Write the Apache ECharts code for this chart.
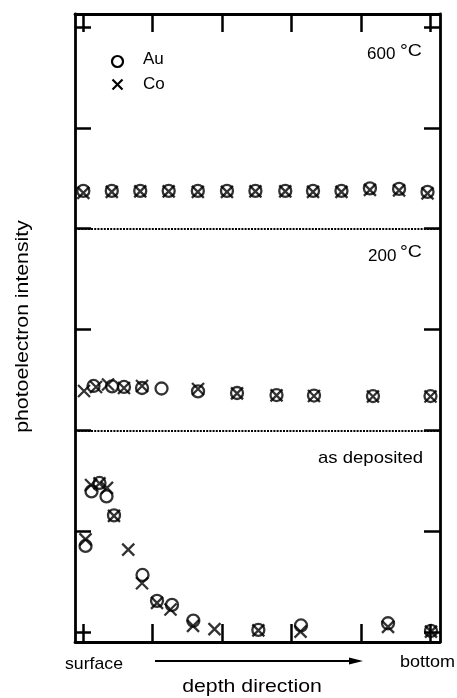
<!DOCTYPE html>
<html>
<head>
<meta charset="utf-8">
<script src="https://cdn.jsdelivr.net/npm/echarts@6/dist/echarts.min.js"></script>
<style>
  html, body { margin: 0; padding: 0; background: #fff; }
  #chart { width: 457px; height: 698px; }
</style>
</head>
<body>
<div id="chart"></div>
<script>
// Depth is in arbitrary units (surface = 0, bottom = 5); intensities are
// given inside each panel and lifted by the panel offset when plotted.
const panelOffsets = { asDeposited: 0, t200: 2, t600: 4 };

// 600 °C anneal
const depth600 = [0, 0.41, 0.82, 1.23, 1.65, 2.07, 2.48, 2.91, 3.31, 3.72, 4.13, 4.55, 4.96];
const au600 = [0.375, 0.375, 0.375, 0.375, 0.375, 0.375, 0.375, 0.375, 0.375, 0.375, 0.40, 0.395, 0.365];
const co600 = [0.355, 0.365, 0.37, 0.37, 0.365, 0.365, 0.37, 0.37, 0.365, 0.365, 0.385, 0.38, 0.35];

// 200 °C anneal
const auDepth200 = [0.147, 0.414, 0.586, 0.846, 1.127, 1.653, 2.215, 2.784, 3.324, 4.174, 5.003];
const au200 = [0.44, 0.436, 0.43, 0.42, 0.415, 0.386, 0.37, 0.35, 0.345, 0.34, 0.34];
const coDepth200 = [0.01, 0.183, 0.356, 0.586, 0.846, 1.653, 2.215, 2.784, 3.324, 4.174, 5.003];
const co200 = [0.39, 0.43, 0.455, 0.42, 0.44, 0.41, 0.366, 0.346, 0.34, 0.336, 0.336];

// as deposited
const auDepthAsDep = [0.032, 0.118, 0.233, 0.334, 0.442, 0.853, 1.062, 1.278, 1.585, 2.522, 3.137, 4.391, 5.010];
const auAsDep = [0.853, 1.394, 1.478, 1.344, 1.156, 0.565, 0.308, 0.268, 0.112, 0.02, 0.064, 0.086, 0.01];
const coDepthAsDep = [0.032, 0.111, 0.233, 0.341, 0.442, 0.647, 0.846, 1.062, 1.256, 1.581, 1.890, 2.522, 3.130, 4.391, 5.010];
const coAsDep = [0.918, 1.458, 1.473, 1.429, 1.151, 0.816, 0.483, 0.288, 0.223, 0.06, 0.028, 0.015, 0.003, 0.05, 0.003];

const depthTicks = [0, 1, 2, 3, 4, 5];
const intensityTicks = [0, 1, 2, 3, 4, 5, 6];
const panelBoundaries = [2, 4];

const FONT = '"Liberation Sans", Arial, Helvetica, sans-serif';

function stack(depths, values, offset) {
  return depths.map((d, i) => [d, values[i] + offset]);
}

const auData = [].concat(
  stack(auDepthAsDep, auAsDep, panelOffsets.asDeposited),
  stack(auDepth200, au200, panelOffsets.t200),
  stack(depth600, au600, panelOffsets.t600)
);
const coData = [].concat(
  stack(coDepthAsDep, coAsDep, panelOffsets.asDeposited),
  stack(coDepth200, co200, panelOffsets.t200),
  stack(depth600, co600, panelOffsets.t600)
);

const CROSS = 'path://M0,0L10,10M10,0L0,10';

function xAxisDef(position) {
  return {
    type: 'value', position: position, min: -0.12, max: 5.14,
    axisLine: { show: true, onZero: false, lineStyle: { color: '#000', width: 2.8 } },
    axisTick: { show: true, inside: true, length: 18, customValues: depthTicks,
                lineStyle: { color: '#000', width: 2.5 } },
    axisLabel: { show: false },
    splitLine: { show: false }
  };
}
function yAxisDef(position) {
  return {
    type: 'value', position: position, min: -0.1, max: 6.13,
    axisLine: { show: true, onZero: false, lineStyle: { color: '#000', width: 2.8 } },
    axisTick: { show: true, inside: true, length: 16, customValues: intensityTicks,
                lineStyle: { color: '#000', width: 2.5 } },
    axisLabel: { show: false },
    splitLine: { show: false }
  };
}

function label(text, x, y, size, opts) {
  opts = opts || {};
  return {
    type: 'text', x: x, y: y, rotation: opts.rotation || 0,
    scaleX: opts.scaleX || 1, scaleY: 1, silent: true,
    style: {
      text: text, fill: '#000', font: 'normal ' + size + 'px ' + FONT,
      textAlign: opts.align || 'left', textVerticalAlign: 'middle'
    }
  };
}

const chart = echarts.init(document.getElementById('chart'), null, { renderer: 'canvas' });
chart.setOption({
  animation: false,
  backgroundColor: '#fff',
  grid: { left: 75, right: 17, top: 14, bottom: 56 },
  xAxis: [xAxisDef('bottom'), xAxisDef('top')],
  yAxis: [yAxisDef('left'), yAxisDef('right')],
  series: [
    {
      name: 'Au', type: 'scatter', xAxisIndex: 0, yAxisIndex: 0,
      symbol: 'circle', symbolSize: 12,
      itemStyle: { color: 'rgba(0,0,0,0)', borderColor: '#000', borderWidth: 2.3 },
      emphasis: { disabled: true },
      data: auData,
      markLine: {
        silent: true, symbol: ['none', 'none'],
        label: { show: false },
        lineStyle: { color: '#000', width: 2, type: [2, 1.2] },
        data: panelBoundaries.map(v => ({ yAxis: v }))
      }
    },
    {
      name: 'Co', type: 'scatter', xAxisIndex: 0, yAxisIndex: 0,
      symbol: CROSS, symbolSize: 12,
      itemStyle: { color: 'rgba(0,0,0,0)', borderColor: '#000', borderWidth: 2.3 },
      emphasis: { disabled: true },
      data: coData
    }
  ],
  graphic: [
    // legend
    { type: 'circle', silent: true, shape: { cx: 117.5, cy: 61.5, r: 5.5 },
      style: { fill: 'none', stroke: '#000', lineWidth: 2.2 } },
    { type: 'polyline', silent: true, shape: { points: [[112.5, 79.5], [122.5, 89.5]] },
      style: { stroke: '#000', lineWidth: 2.2 } },
    { type: 'polyline', silent: true, shape: { points: [[122.5, 79.5], [112.5, 89.5]] },
      style: { stroke: '#000', lineWidth: 2.2 } },
    label('Au', 143, 59.5, 17),
    label('Co', 143, 84, 17),

    // panel titles
    label('600', 367, 54.4, 17),
    label('°C', 400, 51, 17, { scaleX: 1.15 }),
    label('200', 368, 256, 17),
    label('°C', 400, 252.4, 17, { scaleX: 1.15 }),
    label('as deposited', 318, 458.5, 17, { scaleX: 1.09 }),

    // depth axis annotation
    label('surface', 65, 664.5, 17, { scaleX: 1.04 }),
    label('bottom', 400, 662.5, 17, { scaleX: 1.06 }),
    { type: 'line', silent: true, shape: { x1: 155, y1: 661, x2: 352, y2: 661 },
      style: { stroke: '#000', lineWidth: 2 } },
    { type: 'polygon', silent: true, shape: { points: [[349, 657.5], [363, 661], [349, 664.5]] },
      style: { fill: '#000' } },
    label('depth direction', 252, 686.5, 19, { align: 'center', scaleX: 1.12 }),

    // intensity axis title
    label('photoelectron intensity', 23.5, 326.5, 18, { align: 'center', rotation: Math.PI / 2, scaleX: 1.18 })
  ]
});
</script>
</body>
</html>
